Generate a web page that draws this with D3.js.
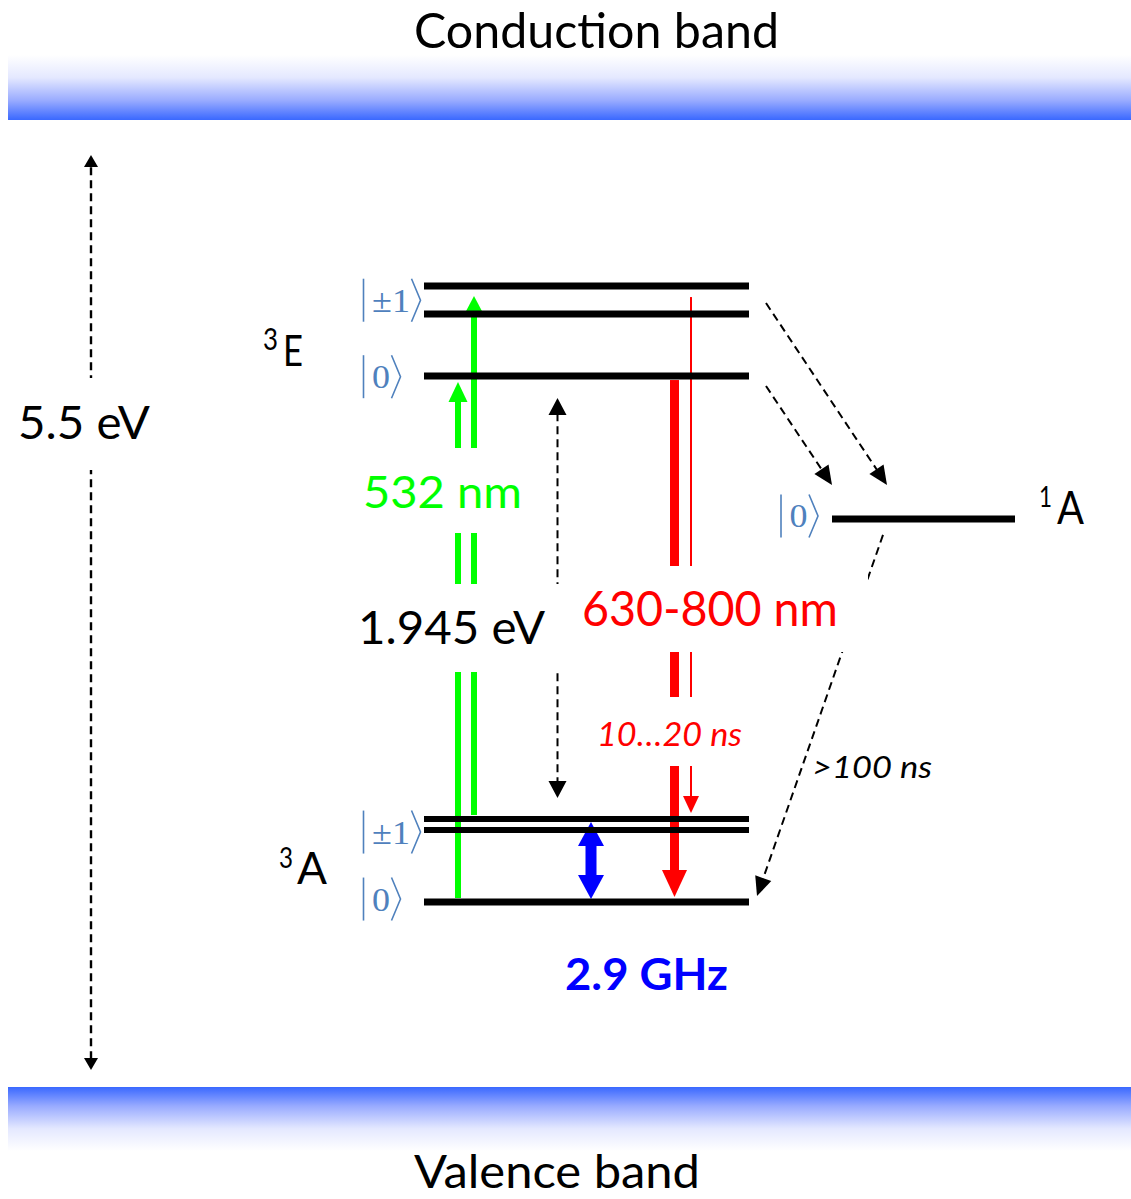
<!DOCTYPE html>
<html><head><meta charset="utf-8">
<script src="https://cdn.jsdelivr.net/npm/d3@7"></script>
<style>body{margin:0;background:#fff}svg{display:block}</style>
</head><body>
<svg id="chart" width="1131" height="1199"></svg>
<script>
// ---------------- DATA ----------------
// energies (eV, schematic); valence band top = 0, conduction band bottom = 5.5
const bandNames = ["Valence band", "Conduction band"];
const bandEnergies = [0, 5.5];

const levelNames    = ["3E ±1 a", "3E ±1 b", "3E 0", "1A 0", "3A ±1 a", "3A ±1 b", "3A 0"];
const levelEnergies = [4.556, 4.397, 4.044, 3.231, 1.524, 1.462, 1.052];
const levelGroups   = ["triplet", "triplet", "triplet", "singlet", "triplet", "triplet", "triplet"];

const ketNames    = ["3E ±1", "3E 0", "1A 0", "3A ±1", "3A 0"];
const ketContents = ["±1", "0", "0", "±1", "0"];
const ketEnergies = [4.475, 4.040, 3.248, 1.450, 1.069];

const stateNames  = ["3E", "3A", "1A"];
const stateSup    = ["3", "3", "1"];
const stateMain   = ["E", "A", "A"];
const stateEnergies = [4.100, 1.152, 3.200];

// solid optical / microwave transitions: from -> to energy
const transNames = ["green0", "green1", "redStrong", "redWeak", "microwave"];
const transFrom  = [1.075, 1.547, 4.021, 4.493, 1.507];
const transTo    = [4.010, 4.499, 1.081, 1.558, 1.069];
const transDouble = [false, false, false, false, true];

// dashed arrows: from -> to energy
const dashNames = ["gap", "zpl", "isc1", "isc0", "iscDown"];
const dashFrom  = [0.097, 3.919, 4.459, 3.987, 3.140];
const dashTo    = [5.301, 1.644, 3.424, 3.424, 1.086];
const dashDouble = [true, true, false, false, false];

// annotation labels
const labelTexts = ["5.5 eV", "532 nm", "1.945 eV", "630-800 nm", "10…20 ns", ">100 ns", "2.9 GHz"];
const labelEnergies = [3.685, 3.296, 2.520, 2.624, 1.940, 1.757, 0.552];

// ---------------- LAYOUT / STYLE ----------------
const W = 1131, H = 1199;
const svg = d3.select("#chart");
const y = d3.scaleLinear().domain([0, 5.5]).range([1087, 120]);

const groupX = { triplet: [424, 749], singlet: [832, 1015] };
const levelStroke = { "3A ±1 a": 6, "3A ±1 b": 6 };

const ketX = { "3E ±1": 363.5, "3E 0": 363.5, "1A 0": 781, "3A ±1": 363.5, "3A 0": 363.5 };

const stateLayout = {
  "3E": { xs: 263, xm: 283, size: 42, supSize: 30, supDy: -16, wm: 20, ws: 15 },
  "3A": { xs: 279, xm: 297, size: 44, supSize: 29, supDy: -16, wm: 30, ws: 14 },
  "1A": { xs: 1039, xm: 1057, size: 47, supSize: 28, supDy: -17, wm: 27, ws: 13 }
};

const colors = { green: "#00ff00", red: "#ff0000", blue: "#0000ff", ket: "#4f81bd" };
const transStyle = {
  green0:    { x: 458,   color: colors.green, sw: 6,  hw: 19, hl: 20 },
  green1:    { x: 474,   color: colors.green, sw: 6,  hw: 19, hl: 18 },
  redStrong: { x: 674.5, color: colors.red,   sw: 9,  hw: 25, hl: 27 },
  redWeak:   { x: 691,   color: colors.red,   sw: 2,  hw: 16, hl: 17 },
  microwave: { x: 591,   color: colors.blue,  sw: 11, hw: 26, hl: 24 }
};
const dashStyle = {
  gap:     { x0: 91,  x1: 91,  sw: 2.4, hw: 14, hl: 12 },
  zpl:     { x0: 557.5, x1: 557.5, sw: 2, hw: 18, hl: 17 },
  isc1:    { x0: 766, x1: 887, sw: 2, hw: 17, hl: 19 },
  isc0:    { x0: 766, x1: 832, sw: 2, hw: 17, hl: 19 },
  iscDown: { x0: 883, x1: 757, sw: 2, hw: 17, hl: 19 }
};
const labelStyle = {
  "5.5 eV":     { x: 18,  len: 132, size: 46, color: "#000", box: [10, 378, 160, 470] },
  "532 nm":     { x: 363, len: 159, size: 44, color: colors.green, box: [352, 448, 532, 533] },
  "1.945 eV":   { x: 358, len: 187, size: 47, color: "#000", box: [350, 584, 563, 672] },
  "630-800 nm": { x: 582, len: 256, size: 48, color: colors.red, box: [575, 566, 868, 652] },
  "10…20 ns":   { x: 597, len: 145, size: 32, color: colors.red, italic: true, box: [590, 697, 752, 766] },
  ">100 ns":    { x: 812, len: 120, size: 30, color: "#000", italic: true },
  "2.9 GHz":    { x: 565, len: 163, size: 44, color: colors.blue, bold: true }
};
const FONT = "Lato, 'Open Sans', 'Liberation Sans', sans-serif";

// ---------------- BANDS ----------------
const defs = svg.append("defs");
function grad(id, flip) {
  const g = defs.append("linearGradient").attr("id", id).attr("x1", 0).attr("y1", flip ? 1 : 0).attr("x2", 0).attr("y2", flip ? 0 : 1);
  [[0, "#ffffff"], [0.35, "#e4e8ff"], [0.7, "#99abff"], [1, "#3a68ff"]].forEach(s =>
    g.append("stop").attr("offset", s[0]).attr("stop-color", s[1]));
}
grad("gTop", false); grad("gBot", true);

bandNames.forEach((name, i) => {
  const e = bandEnergies[i];
  const isTop = e > 0;
  svg.append("rect")
    .attr("x", 8).attr("width", W - 8)
    .attr("y", isTop ? y(e) - 65 : y(e))
    .attr("height", isTop ? 65 : 64)
    .attr("fill", isTop ? "url(#gTop)" : "url(#gBot)");
  svg.append("text")
    .attr("x", 414).attr("y", isTop ? y(e) - 72 : y(e) + 101)
    .attr("font-family", FONT).attr("font-size", isTop ? 48 : 46)
    .attr("textLength", isTop ? 365 : 286).attr("lengthAdjust", "spacingAndGlyphs")
    .attr("fill", "#000").text(name);
});

// ---------------- SOLID ARROWS ----------------
const arrowG = svg.append("g");
function headPath(xTip, yTip, ux, uy, hw, hl) {
  const bx = xTip - ux * hl, by = yTip - uy * hl;
  const px = -uy, py = ux;
  return `M${xTip},${yTip}L${bx + px * hw / 2},${by + py * hw / 2}L${bx - px * hw / 2},${by - py * hw / 2}Z`;
}
transNames.forEach((n, i) => {
  const s = transStyle[n];
  const y0 = y(transFrom[i]), y1 = y(transTo[i]);
  const dir = Math.sign(y1 - y0);
  const a = transDouble[i] ? y0 + dir * s.hl * 0.9 : y0;
  const b = y1 - dir * s.hl * 0.9;
  arrowG.append("rect").attr("x", s.x - s.sw / 2).attr("width", s.sw)
    .attr("y", Math.min(a, b)).attr("height", Math.abs(b - a)).attr("fill", s.color);
  arrowG.append("path").attr("d", headPath(s.x, y1, 0, dir, s.hw, s.hl)).attr("fill", s.color);
  if (transDouble[i]) arrowG.append("path").attr("d", headPath(s.x, y0, 0, -dir, s.hw, s.hl)).attr("fill", s.color);
});

// ---------------- DASHED ARROWS ----------------
dashNames.forEach((n, i) => {
  const s = dashStyle[n];
  const x0 = s.x0, y0 = y(dashFrom[i]), x1 = s.x1, y1 = y(dashTo[i]);
  const L = Math.hypot(x1 - x0, y1 - y0), ux = (x1 - x0) / L, uy = (y1 - y0) / L;
  const sx = dashDouble[i] ? x0 + ux * s.hl * 0.9 : x0, sy = dashDouble[i] ? y0 + uy * s.hl * 0.9 : y0;
  arrowG.append("line").attr("x1", sx).attr("y1", sy)
    .attr("x2", x1 - ux * s.hl * 0.9).attr("y2", y1 - uy * s.hl * 0.9)
    .attr("stroke", "#000").attr("stroke-width", s.sw).attr("stroke-dasharray", "8,5");
  arrowG.append("path").attr("d", headPath(x1, y1, ux, uy, s.hw, s.hl)).attr("fill", "#000");
  if (dashDouble[i]) arrowG.append("path").attr("d", headPath(x0, y0, -ux, -uy, s.hw, s.hl)).attr("fill", "#000");
});

// ---------------- LEVELS ----------------
levelNames.forEach((n, i) => {
  const [xa, xb] = groupX[levelGroups[i]];
  svg.append("line").attr("x1", xa).attr("x2", xb)
    .attr("y1", y(levelEnergies[i])).attr("y2", y(levelEnergies[i]))
    .attr("stroke", "#000").attr("stroke-width", levelStroke[n] || 7);
});

// ---------------- KETS ----------------
ketNames.forEach((n, i) => {
  const xb = ketX[n], yc = y(ketEnergies[i]), h = 43;
  const g = svg.append("g");
  g.append("line").attr("x1", xb).attr("x2", xb).attr("y1", yc - h / 2).attr("y2", yc + h / 2)
    .attr("stroke", colors.ket).attr("stroke-width", 1.6);
  g.append("text").attr("x", xb + 8.5).attr("y", yc + 11.5)
    .attr("font-family", "'Liberation Serif', 'DejaVu Serif', serif").attr("font-size", 34)
    .attr("fill", colors.ket).attr("textLength", ketContents[i] === "0" ? 18 : 38)
    .attr("lengthAdjust", "spacingAndGlyphs").text(ketContents[i]);
  const xa = xb + 8.5 + (ketContents[i] === "0" ? 18 : 38) + 1.5;
  g.append("path").attr("d", `M${xa},${yc - h / 2}L${xa + 9},${yc}L${xa},${yc + h / 2}`)
    .attr("fill", "none").attr("stroke", colors.ket).attr("stroke-width", 1.6);
});

// ---------------- STATE LABELS ----------------
stateNames.forEach((n, i) => {
  const s = stateLayout[n], yb = y(stateEnergies[i]);
  svg.append("text").attr("x", s.xm).attr("y", yb).attr("font-family", FONT)
    .attr("font-size", s.size).attr("textLength", s.wm).attr("lengthAdjust", "spacingAndGlyphs").text(stateMain[i]);
  svg.append("text").attr("x", s.xs).attr("y", yb + s.supDy).attr("font-family", FONT)
    .attr("font-size", s.supSize).attr("textLength", s.ws).attr("lengthAdjust", "spacingAndGlyphs").text(stateSup[i]);
});

// ---------------- ANNOTATIONS ----------------
labelTexts.forEach((t, i) => {
  const s = labelStyle[t];
  if (s.box) svg.append("rect").attr("x", s.box[0]).attr("y", s.box[1])
    .attr("width", s.box[2] - s.box[0]).attr("height", s.box[3] - s.box[1]).attr("fill", "#fff");
  svg.append("text").attr("x", s.x).attr("y", y(labelEnergies[i]))
    .attr("font-family", FONT).attr("font-size", s.size)
    .attr("font-style", s.italic ? "italic" : "normal")
    .attr("font-weight", s.bold ? "bold" : "normal")
    .attr("fill", s.color).attr("textLength", s.len).attr("lengthAdjust", "spacingAndGlyphs").text(t);
});
</script>
</body></html>
